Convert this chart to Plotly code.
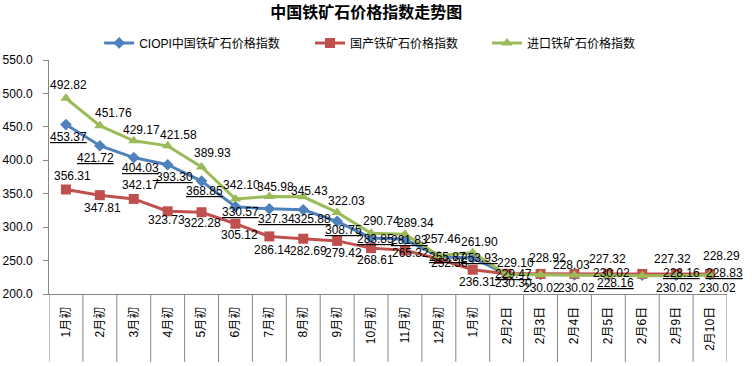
import plotly.graph_objects as go

categories = ["1月初", "2月初", "3月初", "4月初", "5月初", "6月初", "7月初", "8月初", "9月初",
              "10月初", "11月初", "12月初", "1月初", "2月2日", "2月3日", "2月4日", "2月5日",
              "2月6日", "2月9日", "2月10日"]

ciopi = [453.37, 421.72, 404.03, 393.30, 368.85, 330.57, 327.34, 325.88, 308.75, 283.85,
         281.83, 255.87, 253.93, 229.47, 229.26, 228.65, 228.16, 228.16, 228.16, 228.83]
domestic = [356.31, 347.81, 342.17, 323.73, 322.28, 305.12, 286.14, 282.69, 279.42, 268.61,
            265.32, 252.36, 236.31, 230.30, 230.02, 230.02, 230.02, 230.02, 230.02, 230.02]
imported = [492.82, 451.76, 429.17, 421.58, 389.93, 342.10, 345.98, 345.43, 322.03, 290.74,
            289.34, 257.46, 261.90, 229.10, 228.92, 228.03, 227.32, 227.32, 227.32, 228.29]

# which data labels are shown in the reference
ciopi_show = [1] * 14 + [0, 0, 1, 0, 1, 1]
domestic_show = [1] * 17 + [0, 1, 1]
imported_show = [1] * 17 + [0, 1, 1]

# label offsets in pixels (dx right, dy down)
ciopi_off = [(3, 12), (-4, 12), (7, 10), (7, 12), (3, 10), (5, 5), (7, 10), (9, 9), (6, 9), (4, 1),
             (5, 1), (9, 0), (7, 0), (7, 0), (0, 0), (0, 0), (7, 8), (0, 0), (5, -2), (14, -2)]
domestic_off = [(7, -14), (3, 13), (7, -14), (-1, 9), (1, 11), (4, 11), (3, 14), (5, 12), (6, 12), (4, 12),
                (6, 3), (11, 4), (5, 12), (7, 9), (1, 14), (2, 14), (3, -1), (0, 0), (-2, 14), (7, 14)]
imported_off = [(3, -13), (14, -13), (8, -11), (11, -11), (11, -14), (6, -14), (6, -9), (6, -6), (9, -11), (10, -12),
                (11, -11), (4, -17), (7, -11), (9, -12), (7, -17), (-3, -10), (-1, -17), (0, 0), (-4, -17), (11, -19)]

names = ["CIOPI中国铁矿石价格指数", "国产铁矿石价格指数", "进口铁矿石价格指数"]
colors = ["#4F81BD", "#C0504D", "#9BBB59"]
symbols = ["diamond", "square", "triangle-up"]
msizes = [9, 10, 10]
legend_ids = ["legend", "legend2", "legend3"]
legend_x = [0.074, 0.385, 0.646]

xs = list(range(len(categories)))
FONT = "Liberation Sans, Noto Sans CJK SC, sans-serif"

fig = go.Figure()
series = [ciopi, domestic, imported]
for vals, name, col, sym, ms, lid in zip(series, names, colors, symbols, msizes, legend_ids):
    fig.add_trace(go.Scatter(
        x=xs, y=vals, name=name, mode="lines+markers",
        line=dict(color=col, width=3),
        marker=dict(symbol=sym, size=ms, color=col, line=dict(color=col, width=0)),
        hoverinfo="skip", legend=lid,
    ))

annotations = []
for vals, show, offs, underline in [(ciopi, ciopi_show, ciopi_off, True),
                                    (domestic, domestic_show, domestic_off, False),
                                    (imported, imported_show, imported_off, False)]:
    for i, v in enumerate(vals):
        if not show[i]:
            continue
        t = f"{v:.2f}"
        if underline:
            t = f"<u>{t}</u>"
        dx, dy = offs[i]
        annotations.append(dict(
            x=xs[i], y=v, xref="x", yref="y", text=t, showarrow=False,
            xshift=dx, yshift=-dy, xanchor="center", yanchor="middle",
            font=dict(family=FONT, size=12, color="#000000"),
        ))

shapes = []
for i in range(len(categories) + 1):
    shapes.append(dict(type="line", xref="x", yref="paper", x0=i - 0.5, x1=i - 0.5,
                       y0=0, y1=-0.29, line=dict(color="#868686", width=1)))

legend_common = dict(orientation="h", xanchor="left", y=1.073, yanchor="middle",
                     font=dict(family=FONT, size=12), bgcolor="rgba(0,0,0,0)", itemwidth=30)

fig.update_layout(
    width=752, height=366,
    margin=dict(l=49, r=25, t=60, b=72),
    paper_bgcolor="white", plot_bgcolor="white",
    font=dict(family=FONT, size=12, color="#000000"),
    title=dict(text="<b>中国铁矿石价格指数走势图</b>", x=0.487, xanchor="center",
               y=0.967, yanchor="middle",
               font=dict(family="Noto Sans CJK SC, sans-serif", size=16, color="#000000")),
    showlegend=True,
    legend=dict(x=legend_x[0], **legend_common),
    legend2=dict(x=legend_x[1], **legend_common),
    legend3=dict(x=legend_x[2], **legend_common),
    annotations=annotations,
    shapes=shapes,
)
fig.update_xaxes(
    range=[-0.5, len(categories) - 0.5], tickmode="array", tickvals=xs, ticktext=categories,
    tickangle=-90, ticks="", showgrid=False, zeroline=False, automargin=False,
    showline=True, linecolor="#868686", linewidth=1,
    tickfont=dict(family=FONT, size=12), ticklabelstandoff=7,
)
fig.update_yaxes(
    range=[200, 550], dtick=50, tick0=200, tickformat=".1f", automargin=False,
    ticks="outside", ticklen=5, tickcolor="#868686",
    showgrid=False, zeroline=False, showline=True, linecolor="#868686", linewidth=1,
    tickfont=dict(family=FONT, size=12), ticklabelstandoff=8,
)

fig.write_html("out.html", config={"displayModeBar": False},
               post_script="document.body.style.margin='0';")
